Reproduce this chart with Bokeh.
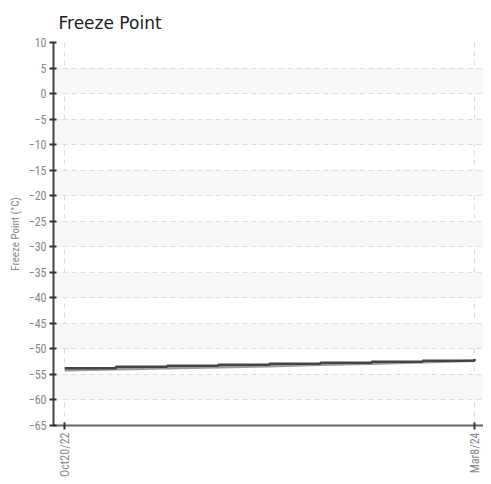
import math
import pandas as pd
from bokeh.plotting import figure
from bokeh.models import FixedTicker, Range1d
from bokeh.embed import file_html
from bokeh.resources import INLINE

dates = ["2022-10-20", "2022-12-22", "2023-02-23", "2023-04-27", "2023-06-29",
         "2023-08-31", "2023-11-02", "2024-01-04", "2024-03-08"]
upper = [-53.8, -53.5, -53.3, -53.1, -52.9, -52.7, -52.5, -52.3, -52.0]
lower = [-54.2, -54.0, -53.8, -53.6, -53.4, -53.1, -52.9, -52.6, -52.3]
x_tick_labels = ["Oct20/22", "Mar8/24"]
y_ticks = list(range(-65, 11, 5))

xs = pd.to_datetime(dates)
x_ms = [t.value / 1e6 for t in xs]

day = 86400000.0
p = figure(frame_width=430, frame_height=383, output_backend="svg", toolbar_location=None,
           x_axis_type="datetime",
           x_range=Range1d(x_ms[0] - 14 * day, x_ms[-1] + 11 * day),
           y_range=Range1d(-65, 10),
           min_border_left=53, min_border_right=0, min_border_top=0, min_border_bottom=50)
p.outline_line_color = None
p.background_fill_color = "white"

p.title.text = "Freeze Point"
p.title.text_font = "DejaVu Sans"
p.title.text_font_size = "17px"
p.title.text_font_style = "normal"
p.title.text_color = "#222222"
p.title.offset = 5
p.title.standoff = 20

p.line(x_ms, lower, line_color="#9a9a9a", line_width=2.5)
p.step(x_ms, upper, mode="after", line_color="#444444", line_width=2.5)

font = "'Roboto Condensed', 'DejaVu Sans Condensed', Roboto, sans-serif"

p.xaxis.ticker = FixedTicker(ticks=[x_ms[0], x_ms[-1]])
p.xaxis.major_label_overrides = {x_ms[0]: x_tick_labels[0], x_ms[-1]: x_tick_labels[1]}
p.xaxis.major_label_orientation = math.pi / 2
p.yaxis.ticker = FixedTicker(ticks=y_ticks)
p.yaxis.axis_label = "Freeze Point (°C)"

for ax in (p.xaxis, p.yaxis):
    ax.axis_line_color = "#444444"
    ax.axis_line_width = 2
    ax.major_tick_line_color = "#333333"
    ax.major_tick_line_width = 2
    ax.major_tick_in = 3
    ax.major_tick_out = 4
    ax.minor_tick_line_color = None
    ax.major_label_text_font = font
    ax.major_label_text_font_size = "12px"
    ax.major_label_text_color = "#888888"
    ax.major_label_standoff = 3
    ax.axis_label_text_font = font
    ax.axis_label_text_font_size = "11px"
    ax.axis_label_text_color = "#888888"
    ax.axis_label_text_font_style = "normal"
    ax.axis_label_standoff = 4
p.xaxis.axis_line_color = "#666666"

p.xgrid.grid_line_color = "#dddddd"
p.xgrid.grid_line_dash = "5 4"
p.ygrid.grid_line_color = "#dddddd"
p.ygrid.grid_line_dash = "5 4"
p.ygrid.band_fill_color = "#f7f7f7"
p.ygrid.band_fill_alpha = 1.0

open("out.html", "w").write(file_html(p, INLINE))
